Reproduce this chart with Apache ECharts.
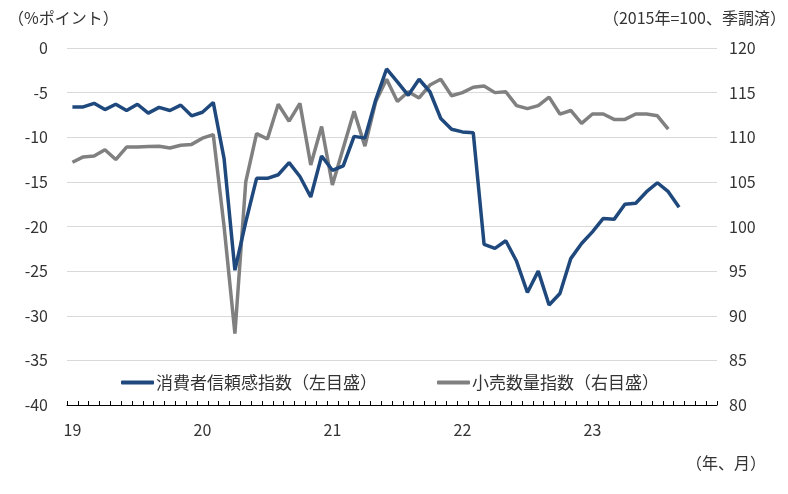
<!DOCTYPE html>
<html>
<head>
<meta charset="utf-8">
<script src="https://cdn.jsdelivr.net/npm/echarts@6/dist/echarts.min.js"></script>
<style>html,body{margin:0;padding:0;background:#fff}#c{width:788px;height:494px}</style>
</head>
<body>
<div id="c"></div>
<script>
// Months Jan 2019 – Dec 2023
var categories = [];
for (var y = 2019; y <= 2023; y++) {
  for (var m = 1; m <= 12; m++) {
    categories.push(y + '-' + (m < 10 ? '0' + m : m));
  }
}
var yearTickLabels = ['19', '20', '21', '22', '23'];

// 消費者信頼感指数（左目盛）, Jan 2019 – Sep 2023
var consumerConfidence = [
  -6.6, -6.6, -6.2, -6.9, -6.3, -7.0, -6.3, -7.3, -6.65, -7.0, -6.4, -7.6,
  -7.2, -6.1, -12.4, -24.9, -19.5, -14.6, -14.6, -14.2, -12.85, -14.4, -16.7, -12.1,
  -13.7, -13.2, -9.9, -10.1, -5.8, -2.35, -3.8, -5.3, -3.5, -4.9, -7.9, -9.1,
  -9.4, -9.5, -22.0, -22.45, -21.6, -23.9, -27.4, -25.0, -28.8, -27.5, -23.6, -21.9,
  -20.6, -19.1, -19.2, -17.5, -17.4, -16.1, -15.1, -16.1, -17.85
];

// 小売数量指数（右目盛）, Jan 2019 – Aug 2023
var retailVolume = [
  107.2, 107.8, 107.9, 108.6, 107.5, 108.9, 108.9, 108.95, 109.0, 108.8, 109.1, 109.2,
  109.9, 110.3, 100.0, 88.0, 105.0, 110.4, 109.8, 113.7, 111.8, 113.8, 106.9, 111.2,
  104.65, 108.8, 112.9, 109.0, 114.0, 116.5, 114.0, 115.1, 114.4, 115.85, 116.5, 114.65,
  115.0, 115.6, 115.75, 115.0, 115.1, 113.55, 113.2, 113.55, 114.5, 112.6, 113.0, 111.55,
  112.6, 112.6, 112.0, 112.0, 112.6, 112.6, 112.4, 110.9
];

var FONT = '"Noto Sans CJK JP", "Noto Sans", sans-serif';
var TXT = '#333333';

var chart = echarts.init(document.getElementById('c'), null, {renderer: 'canvas'});
chart.setOption({
  animation: false,
  backgroundColor: '#ffffff',
  textStyle: {fontFamily: FONT, color: TXT},
  grid: {left: 67, right: 71, top: 48, bottom: 89, containLabel: false},
  graphic: [
    {type: 'text', left: 8, top: 10, style: {text: '（%ポイント）', fontFamily: FONT, fontSize: 16, fill: TXT}},
    {type: 'text', right: 2, top: 10, style: {text: '（2015年=100、季調済）', fontFamily: FONT, fontSize: 16, fill: TXT}},
    {type: 'text', right: 22, top: 455, style: {text: '（年、月）', fontFamily: FONT, fontSize: 16, fill: TXT}}
  ],
  legend: {
    data: ['消費者信頼感指数（左目盛）', '小売数量指数（右目盛）'],
    left: 116, top: 369,
    itemWidth: 33, itemHeight: 4, itemGap: 60,
    icon: 'roundRect',
    textStyle: {fontFamily: FONT, fontSize: 17, color: TXT, padding: [0, 0, 0, -3]}
  },
  xAxis: {
    type: 'category',
    data: categories,
    boundaryGap: true,
    axisLine: {show: true, onZero: false, lineStyle: {color: '#000000', width: 1}},
    axisTick: {show: true, inside: true, length: 4, interval: 0, lineStyle: {color: '#000000', width: 1}},
    axisLabel: {
      interval: 11,
      margin: 17,
      fontFamily: FONT, fontSize: 16, color: TXT,
      formatter: function (v, i) { return yearTickLabels[Math.floor(i / 12)]; }
    },
    splitLine: {show: false}
  },
  yAxis: [
    {
      type: 'value', min: -40, max: 0, interval: 5, position: 'left',
      axisLine: {show: false}, axisTick: {show: false},
      axisLabel: {margin: 19, fontFamily: FONT, fontSize: 16, color: TXT},
      splitLine: {show: true, lineStyle: {color: '#d9d9d9', width: 1}}
    },
    {
      type: 'value', min: 80, max: 120, interval: 5, position: 'right',
      axisLine: {show: false}, axisTick: {show: false},
      axisLabel: {margin: 12, fontFamily: FONT, fontSize: 16, color: TXT},
      splitLine: {show: false}
    }
  ],
  series: [
    {
      name: '小売数量指数（右目盛）', type: 'line', yAxisIndex: 1,
      data: retailVolume, symbol: 'none', z: 2,
      itemStyle: {color: '#808080'},
      lineStyle: {color: '#808080', width: 3.5}
    },
    {
      name: '消費者信頼感指数（左目盛）', type: 'line', yAxisIndex: 0,
      data: consumerConfidence, symbol: 'none', z: 3,
      itemStyle: {color: '#1f497d'},
      lineStyle: {color: '#1f497d', width: 3.5}
    }
  ]
});
</script>
</body>
</html>
